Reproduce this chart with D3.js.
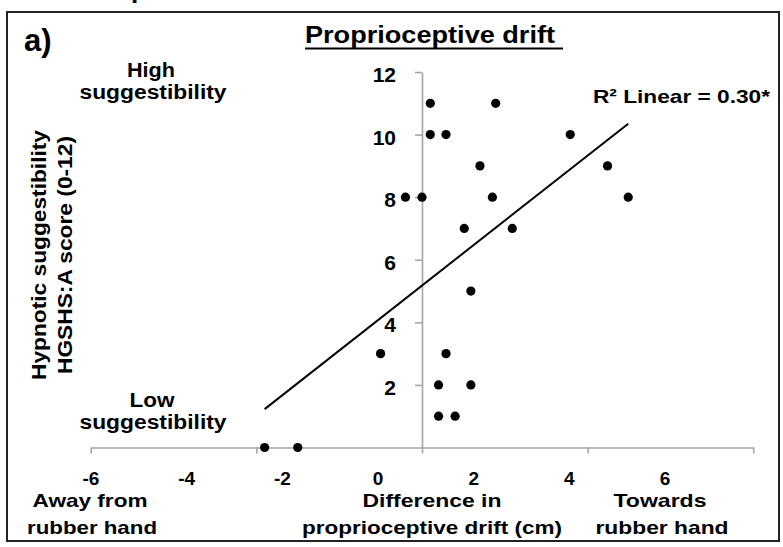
<!DOCTYPE html>
<html>
<head>
<meta charset="utf-8">
<script src="https://cdn.jsdelivr.net/npm/d3@7"></script>
<style>
  body { margin: 0; background: #fff; }
  svg text { font-family: "Liberation Sans", Arial, sans-serif; font-weight: bold; fill: #000; }
</style>
</head>
<body>
<svg id="chart" width="783" height="547"></svg>
<script>
// drift difference (cm) and HGSHS:A score for each participant
var driftValues = [0.10, 0.89, 0.10, 0.29, 1.79, 0.70, 2.24, -0.20, 0.00, 0.85, 2.49,
                   0.51, 1.09, 0.59, -0.50, 0.29, 0.20, 0.59, 0.20, 0.40, -1.90, -1.50];
var scoreValues = [11, 11, 10, 10, 10, 9, 9, 8, 8, 8, 8,
                   7, 7, 5, 3, 3, 2, 2, 1, 1, 0, 0];

var xTickMarks = [-4, -2, 0, 2, 4];
var xTickLabels = ["-6", "-4", "-2", "0", "2", "4", "6"];
var yTicks = [2, 4, 6, 8, 10, 12];

var svg = d3.select("#chart");

let x = d3.scaleLinear().domain([-4, 4]).range([90.7, 753.3]);
let y = d3.scaleLinear().domain([0, 12]).range([447.5, 72]);
// the printed x labels were placed on their own, not under the tick marks
let labelX = d3.scalePoint().domain(xTickLabels).range([91, 665]);

// outer frame
svg.append("rect")
    .attr("x", 7).attr("y", 12)
    .attr("width", 772).attr("height", 529)
    .attr("fill", "none")
    .attr("stroke", "#222")
    .attr("stroke-width", 2);

// cut off text from above the frame
svg.append("text").attr("x", 131).attr("y", -2)
    .style("font-size", "26px").text("p");

svg.append("text").attr("x", 24).attr("y", 51)
    .style("font-size", "31px").text("a)");

// title
svg.append("text").attr("x", 305).attr("y", 43)
    .attr("textLength", 250).attr("lengthAdjust", "spacingAndGlyphs")
    .style("font-size", "23px").text("Proprioceptive drift");
svg.append("line")
    .attr("x1", 305).attr("x2", 563)
    .attr("y1", 48.5).attr("y2", 48.5)
    .attr("stroke", "#000").attr("stroke-width", 2);

// axes
let xAxis = svg.append("g")
    .attr("transform", "translate(0," + y(0) + ")")
    .call(d3.axisBottom(x).tickValues(xTickMarks).tickSize(6).tickSizeOuter(0).tickFormat(""));
let yAxis = svg.append("g")
    .attr("transform", "translate(" + x(0) + ",0)")
    .call(d3.axisLeft(y).tickValues(yTicks).tickSize(7).tickSizeOuter(0).tickFormat(""));
svg.selectAll(".domain, .tick line")
    .attr("stroke", "#a6a6a6")
    .attr("stroke-width", 1.6);

yTicks.forEach(function(v) {
    svg.append("text")
        .attr("x", x(0) - 26)
        .attr("y", y(v) + 10)
        .attr("text-anchor", "end")
        .style("font-size", "21px")
        .text(v);
});

xTickLabels.forEach(function(l) {
    svg.append("text")
        .attr("x", labelX(l))
        .attr("y", 485)
        .attr("text-anchor", "middle")
        .style("font-size", "19px")
        .text(l);
});

// fit line, least squares over the points
let mx = d3.mean(driftValues), my = d3.mean(scoreValues);
let sxy = 0, sxx = 0;
driftValues.forEach(function(d, i) {
    sxy += (d - mx) * (scoreValues[i] - my);
    sxx += (d - mx) * (d - mx);
});
let slope = sxy / sxx;
let intercept = my - slope * mx;
let xMin = d3.min(driftValues), xMax = d3.max(driftValues);

svg.append("line")
    .attr("x1", x(xMin)).attr("y1", y(intercept + slope * xMin))
    .attr("x2", x(xMax)).attr("y2", y(intercept + slope * xMax))
    .attr("stroke", "#000")
    .attr("stroke-width", 2);

svg.selectAll("circle.pt")
    .data(driftValues)
    .enter()
    .append("circle")
    .attr("class", "pt")
    .attr("cx", d => x(d))
    .attr("cy", (d, i) => y(scoreValues[i]))
    .attr("r", 4.6)
    .attr("fill", "#000");

// notes inside the plot
function addText(str, cx, by, size, len, anchor) {
    let t = svg.append("text")
        .attr("x", cx).attr("y", by)
        .attr("text-anchor", anchor || "middle")
        .style("font-size", size + "px")
        .text(str);
    if (len) t.attr("textLength", len).attr("lengthAdjust", "spacingAndGlyphs");
    return t;
}

addText("R\u00b2 Linear = 0.30*", 593, 103, 19, 177, "start");

addText("High", 151, 77, 20, 48);
addText("suggestibility", 153, 98.5, 20, 147);
addText("Low", 152, 407, 20, 45);
addText("suggestibility", 153, 429, 20, 147);

addText("Away from", 90, 507, 19, 115);
addText("rubber hand", 92, 534, 19, 130);
addText("Difference in", 432, 507, 19, 139);
addText("proprioceptive drift (cm)", 432, 534, 19, 260);
addText("Towards", 660, 507, 19, 93);
addText("rubber hand", 662, 534, 19, 133);

// y axis title
let yTitle = svg.append("g").attr("transform", "translate(46,255) rotate(-90)");
yTitle.append("text").attr("text-anchor", "middle")
    .attr("textLength", 250).attr("lengthAdjust", "spacingAndGlyphs")
    .style("font-size", "21px").text("Hypnotic suggestibility");
yTitle.append("text").attr("text-anchor", "middle").attr("y", 26)
    .attr("textLength", 238).attr("lengthAdjust", "spacingAndGlyphs")
    .style("font-size", "21px").text("HGSHS:A score (0-12)");
</script>
</body>
</html>
